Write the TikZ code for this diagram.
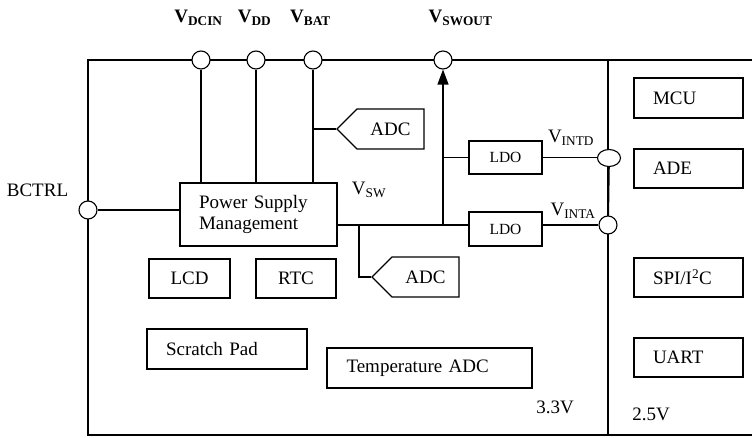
\documentclass[tikz,border=0pt]{standalone}
\usepackage{fontspec}
\setmainfont{Liberation Serif}
\usetikzlibrary{arrows.meta, positioning, shapes.geometric, shapes.symbols}
\tikzset{
  font=\fontsize{19}{21.5}\selectfont,
  wire/.style={line width=1.1pt},
  %
  blk/.style={draw, line width=1.4pt, inner sep=0pt, align=center},
  lblk/.style={blk, align=left, inner xsep=19pt},
  ldo/.style={blk, minimum width=73pt, minimum height=33pt,
              font=\fontsize{15.5}{17}\selectfont},
  adc/.style={draw, line width=1.4pt, signal, signal to=west,
              signal pointer angle=90, minimum width=87pt,
              minimum height=40pt, inner sep=0pt},
  %
  pin/.style={circle, draw, fill=white, line width=1.1pt,
              minimum size=18pt, inner sep=0pt},
  lbl/.style={inner sep=0pt},
}
\begin{document}
\begin{tikzpicture}[x=1pt, y=-1pt]
  \useasboundingbox (0,0) rectangle (752,438);

  % frame and the 3.3V / 2.5V divider
  \coordinate (tl) at (88,60);
  \coordinate (tr) at (752,60);
  \coordinate (bl) at (88,435);
  \coordinate (br) at (752,435);
  \coordinate (dtop) at (608,60);
  \coordinate (dbot) at (608,435);
  \draw[wire] (tr) -- (tl) -- (bl) -- (br);
  \draw[wire] (dtop) -- (dbot);

  % pins
  \node[pin] (vdcin) at (201,60) {};
  \node[pin] (vdd) at (256,60) {};
  \node[pin] (vbat) at (313,60) {};
  \node[pin] (vswout) at (443,60) {};
  \node[pin] (bctrl) at (88,210) {};
  \node[pin, ellipse, minimum width=23pt, minimum height=17pt] (vintd) at (609,158) {};
  \node[pin] (vinta) at (608,225) {};

  % blocks
  \node[lblk, text width=119pt, minimum height=63pt] (psm) at (258.5,214.5)
    {Power Supply\\Management};
  \node[blk, minimum width=81pt, minimum height=39pt] (lcd) at (189.5,278.5) {LCD};
  \node[blk, minimum width=80pt, minimum height=39pt] (rtc) at (296,278.5) {RTC};
  \node[lblk, text width=122pt, minimum height=40pt] (scratch) at (227,349)
    {Scratch Pad};
  \node[lblk, text width=166pt, minimum height=40pt, inner xsep=19.5pt]
    (temp) at (429.5,368) {Temperature ADC};
  \node[ldo] (ldoD) at (505.5,157.5) {LDO};
  \node[ldo, minimum height=34pt] (ldoA) at (505.5,229) {LDO};
  \node[adc, anchor=west] (adcT) at (336,129) {ADC};
  \node[adc, anchor=west] (adcB) at (371,277) {ADC};

  \node[lblk, text width=71pt, minimum height=40pt] (mcu) at (688.5,98) {MCU};
  \node[lblk, text width=71pt, minimum height=39pt] (ade) at (688.5,168.5) {ADE};
  \node[lblk, text width=71pt, minimum height=39pt] (spi) at (688.5,277.5)
    {SPI/I\textsuperscript{2}C};
  \node[lblk, text width=71pt, minimum height=39pt] (uart) at (688.5,357.5) {UART};

  % connections
  \coordinate (jsw) at (443,225);
  \coordinate (jadc) at (359,225);
  \draw[wire] (vdcin) -- (vdcin |- psm.north);
  \draw[wire] (vdd) -- (vdd |- psm.north);
  \draw[wire] (vbat) -- (vbat |- psm.north);
  \draw[wire] (adcT.west) -- (adcT.west -| vbat);
  \draw[wire] (bctrl) -- (bctrl -| psm.west);
  \draw[wire] (jsw -| psm.east) -- (jsw -| ldoA.west);
  \draw[wire, -{Triangle[length=15pt, width=11pt]}] (jsw) -- (vswout);
  \draw[wire] (jsw |- ldoD.west) -- (ldoD.west);
  \draw[wire] (jadc) |- (adcB.west);
  \draw[wire] (ldoD.east) -- (ldoD.east -| vintd.west);
  \draw[wire] (ldoA.east |- vinta) -- (vinta);
  \draw[line width=1.8pt] (vintd) -- (vinta);

  % labels
  \node[lbl] (lvdcin) at (198.5,18) {\textbf{V\textsubscript{DCIN}}};
  \node[lbl] (lvdd) at (254.5,18) {\textbf{V\textsubscript{DD}}};
  \node[lbl] (lvbat) at (310.5,18) {\textbf{V\textsubscript{BAT}}};
  \node[lbl] (lvswout) at (460.5,18) {\textbf{V\textsubscript{SWOUT}}};
  \node[lbl] (lbctrl) at (37.5,190) {BCTRL};
  \node[lbl] (lvsw) at (369,190) {V\textsubscript{SW}};
  \node[lbl] (lvintd) at (571,138) {V\textsubscript{INTD}};
  \node[lbl] (lvinta) at (573,211) {V\textsubscript{INTA}};
  \node[lbl] (l33) at (555,407) {3.3V};
  \node[lbl] (l25) at (651,414) {2.5V};
\end{tikzpicture}
\end{document}
